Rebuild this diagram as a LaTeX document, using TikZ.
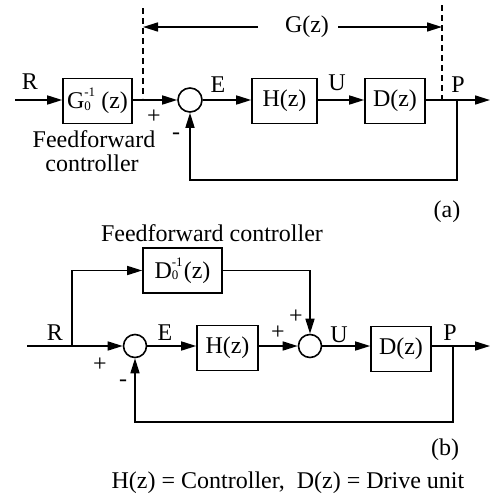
\documentclass[tikz,border=0pt]{standalone}
\usepackage{fontspec}
\setmainfont{Liberation Serif}
\usetikzlibrary{arrows.meta}
\newcommand{\mysupsub}[3]{\makebox[#3][l]{\rlap{\raisebox{12pt}{\fontsize{13}{13}\selectfont #1}}\raisebox{-1.5pt}{\fontsize{13}{13}\selectfont #2}}}
\begin{document}
\begin{tikzpicture}[x=1pt,y=-1pt, line width=1.6pt,
  every node/.style={font=\fontsize{24}{28}\selectfont},
  blk/.style={draw, rectangle, inner sep=0pt, minimum height=45pt},
  sumc/.style={draw, circle, minimum size=24pt, inner sep=0pt},
  lbl/.style={inner sep=0pt},
  arr/.style={-{Triangle[length=15pt,width=9pt]}},
  dsh/.style={line width=2.6pt, dash pattern=on 6pt off 4pt}]
\useasboundingbox (0,0) rectangle (491,496);

% ---------------- (a) ----------------
\coordinate (rin) at (15,100);
\node[blk, minimum width=69pt] (g0) at (97.5,101) {G\mysupsub{-1}{0}{17pt}(z)};
\node[sumc] (s1) at (190,100) {};
\node[blk, minimum width=65pt] (h) at (284.5,101) {H(z)};
\node[blk, minimum width=60pt] (d) at (395,101) {D(z)};
\coordinate (pb) at (457,100);
\coordinate (pout) at (490,100);
\coordinate (fba) at (457,180);

\draw[arr] (rin) -- (rin -| g0.west);
\draw[arr] (g0.east |- s1) -- (s1);
\draw[arr] (s1) -- (s1 -| h.west);
\draw[arr] (h.east |- s1) -- (s1 -| d.west);
\draw[arr] (d.east |- s1) -- (pout);
\draw[arr] (pb) -- (fba) -| (s1.south);

\coordinate (dla) at (143,8);
\coordinate (dlb) at (143,98);
\coordinate (dra) at (442,5);
\coordinate (drb) at (442,103);
\draw[dsh] (dla) -- (dlb);
\draw[dsh] (dra) -- (drb);
\node[lbl] (gz) at (307,27) {G(z)};
\coordinate (gl1) at (258,27);
\coordinate (gl2) at (143,27);
\coordinate (gr1) at (338,27);
\coordinate (gr2) at (442,27);
\draw[arr] (gl1) -- (gl2);
\draw[arr] (gr1) -- (gr2);

\node[lbl] (lr) at (30,82) {R};
\node[lbl] (lp1) at (154,117) {+};
\node[lbl] (lm1) at (176,136) {-};
\node[lbl] (le) at (218,85) {E};
\node[lbl] (lu) at (337,83) {U};
\node[lbl] (lp) at (458,85) {P};
\node[lbl] (ff1) at (94,139) {Feedforward};
\node[lbl] (ff2) at (92,163) {controller};
\node[lbl] (la) at (447,212) {(a)};

% ---------------- (b) ----------------
\coordinate (rin2) at (27,346);
\coordinate (rb) at (72,346);
\node[sumc, minimum size=23pt] (s2) at (135,346) {};
\node[blk, minimum width=61pt] (h2) at (227.5,348) {H(z)};
\node[sumc, minimum size=23pt] (s3) at (310,346) {};
\node[blk, minimum width=60pt] (d2) at (401,349) {D(z)};
\node[blk, minimum width=79pt] (d0) at (182.5,270.5) {D\mysupsub{-1}{0}{12pt}(z)};
\coordinate (pb2) at (453,346);
\coordinate (pout2) at (490,346);
\coordinate (fbb) at (453,422);

\draw[arr] (rin2) -- (s2);
\draw[arr] (rb) |- (d0.west);
\draw[arr] (d0.east) -| (s3.north);
\draw[arr] (s2) -- (s2 -| h2.west);
\draw[arr] (h2.east |- s3) -- (s3);
\draw[arr] (s3) -- (s3 -| d2.west);
\draw[arr] (d2.east |- s3) -- (pout2);
\draw[arr] (pb2) -- (fbb) -| (s2.south);

\node[lbl] (ffc) at (212,233) {Feedforward controller};
\node[lbl] (lr2) at (55,333) {R};
\node[lbl] (lp2) at (100,365) {+};
\node[lbl] (lm2) at (123,383) {-};
\node[lbl] (le2) at (165,333) {E};
\node[lbl] (lp3) at (278,333) {+};
\node[lbl] (lp4) at (296,317) {+};
\node[lbl] (lu2) at (339,335) {U};
\node[lbl] (lpp) at (450,333) {P};
\node[lbl] (lb) at (445,450) {(b)};
\node[lbl] (cap) at (288,483) {H(z) = Controller,\ \ D(z) = Drive unit};
\end{tikzpicture}
\end{document}
